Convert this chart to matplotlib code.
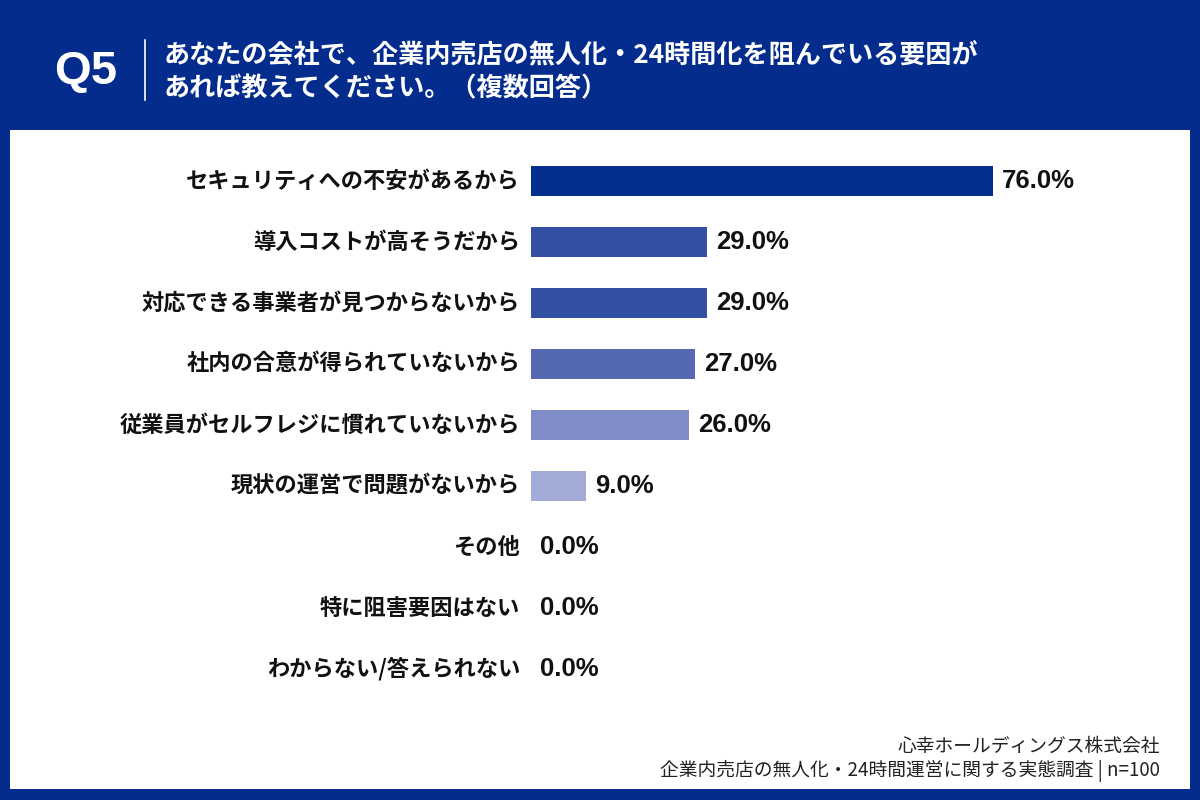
import matplotlib.pyplot as plt
from matplotlib.patches import Rectangle
from matplotlib.lines import Line2D

plt.rcParams['font.family'] = ['Noto Sans CJK JP', 'DejaVu Sans']

categories = ['セキュリティへの不安があるから', '導入コストが高そうだから', '対応できる事業者が見つからないから',
              '社内の合意が得られていないから', '従業員がセルフレジに慣れていないから', '現状の運営で問題がないから',
              'その他', '特に阻害要因はない', 'わからない/答えられない']
values = [76.0, 29.0, 29.0, 27.0, 26.0, 9.0, 0.0, 0.0, 0.0]
colors = ['#032d8e', '#3150a2', '#3150a2', '#5568b2', '#7f8cc7', '#a3acd8', '#a3acd8', '#a3acd8', '#a3acd8']

title_q = 'Q5'
title_lines = ['あなたの会社で、企業内売店の無人化・24時間化を阻んでいる要因が',
               'あれば教えてください。（複数回答）']
footer = ['心幸ホールディングス株式会社', '企業内売店の無人化・24時間運営に関する実態調査 | n=100']

W, H = 1200, 800
fig = plt.figure(figsize=(12, 8), dpi=100)
fig.patch.set_facecolor('#032c8c')

def fx(px):
    return px / W

def fy(py):
    return 1 - py / H

# white panel
fig.patches.append(Rectangle((fx(10), fy(789)), fx(1180), (789 - 130) / H,
                             transform=fig.transFigure, facecolor='white', edgecolor='none', zorder=-5))

# header
fig.text(fx(86), fy(72), title_q, color='white', fontsize=34, fontweight='bold',
         family=['Liberation Sans', 'DejaVu Sans'], ha='center', va='center')
fig.add_artist(Line2D([fx(145), fx(145)], [fy(40), fy(100)], transform=fig.transFigure,
                      color='white', lw=1.2))
fig.text(fx(164), fy(56), title_lines[0], color='white', fontsize=18.8, fontweight='bold', va='center')
fig.text(fx(164), fy(89), title_lines[1], color='white', fontsize=18.8, fontweight='bold', va='center')

# chart
row0, step = 181, 61
n = len(categories)
top = row0 - step / 2
bottom = row0 + step * (n - 1) + step / 2
ax = fig.add_axes([fx(531), fy(bottom), fx(608), (bottom - top) / H])
ax.set_zorder(2)
ax.set_facecolor('none')
y = list(range(n))
ax.barh(y, values, height=0.5, color=colors, zorder=2)
ax.set_xlim(0, 100)
ax.set_ylim(n - 0.5, -0.5)
for s in ax.spines.values():
    s.set_visible(False)
ax.set_xticks([])
ax.set_yticks([])
for i, (c, v) in enumerate(zip(categories, values)):
    ax.text(-1.8, i, c, ha='right', va='center', fontsize=16, fontweight='bold', color='#111111')
    ax.text(v + 1.5, i, f'{v:.1f}%', ha='left', va='center', fontsize=18.5, fontweight='bold',
            color='#111111', family=['Liberation Sans', 'DejaVu Sans'])

# footer
fig.text(fx(1160), fy(746), footer[0], ha='right', va='center', fontsize=13.5, color='#222222')
fig.text(fx(1160), fy(771), footer[1], ha='right', va='center', fontsize=13.5, color='#222222')

fig.savefig('out.png', dpi=100, facecolor=fig.get_facecolor())
